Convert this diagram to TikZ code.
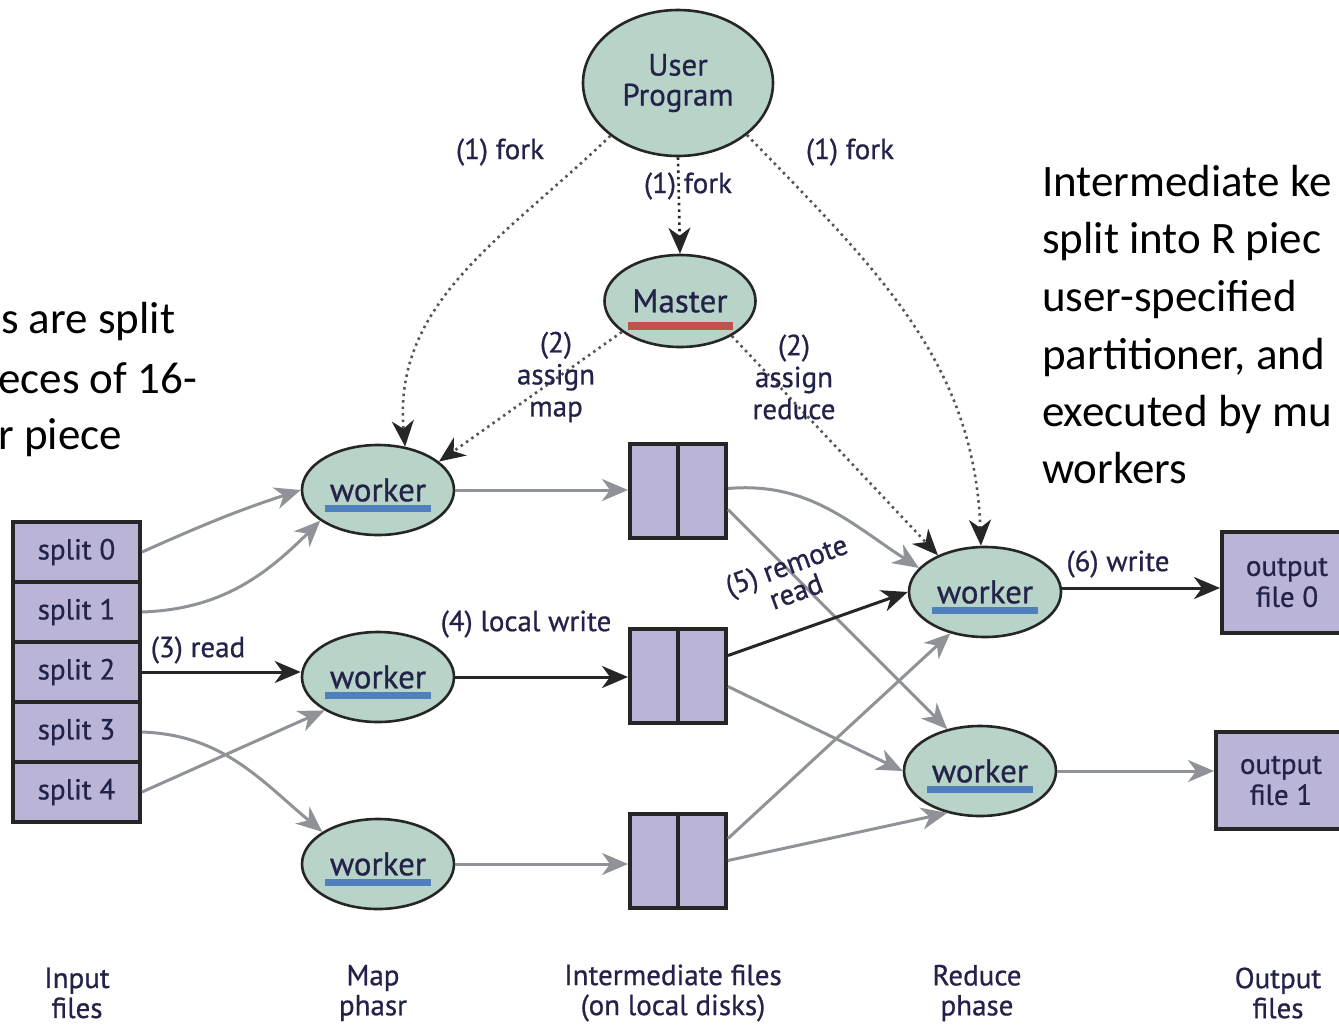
\documentclass[tikz,border=0pt]{standalone}
\usepackage{fontspec}
\setmainfont{Carlito}
\newfontfamily\figfont[FakeBold=0.7]{PT Sans}
\usetikzlibrary{arrows.meta,shapes.geometric}

\definecolor{nodefill}{HTML}{B8D3C8}
\definecolor{filefill}{HTML}{BAB5D7}
\definecolor{edgegray}{HTML}{8F9297}
\definecolor{inkdark}{HTML}{262626}
\definecolor{dotgray}{HTML}{555555}
\definecolor{labelink}{HTML}{23234A}
\definecolor{masterbar}{HTML}{C4504E}
\definecolor{workerbar}{HTML}{4F7FBC}

\begin{document}
\begin{tikzpicture}[x=1pt,y=-1pt,
  tipshape/.tip={Stealth[length=26pt,width=22pt,inset=8pt]},
  proc/.style={ellipse, draw=inkdark, line width=2.6pt, fill=nodefill,
    minimum width=152pt, minimum height=90pt, inner sep=0pt, align=center,
    text=labelink, font=\figfont\fontsize{33}{30}\selectfont},
  wbar/.style={path picture={\fill[workerbar]
    ([shift={(-53pt,-15pt)}]path picture bounding box.center) rectangle ++(106pt,-7pt);}},
  mbar/.style={path picture={\fill[masterbar]
    ([shift={(-52pt,-21pt)}]path picture bounding box.center) rectangle ++(105pt,-8pt);}},
  file/.style={rectangle, draw=inkdark, line width=4pt, fill=filefill,
    minimum width=96pt, minimum height=94pt, inner sep=0pt},
  split/.style={rectangle, draw=inkdark, line width=4pt, fill=filefill,
    minimum width=127pt, minimum height=60pt, inner sep=0pt, align=center,
    text=labelink, font=\figfont\fontsize{29}{31}\selectfont},
  lbl/.style={font=\figfont\fontsize{29}{32}\selectfont, text=labelink,
    align=center, inner sep=0pt},
  note/.style={font=\fontsize{45}{57}\selectfont, text=black, inner sep=0pt,
    anchor=base west},
  flow/.style={-tipshape, line width=3pt, draw=edgegray},
  mainflow/.style={-tipshape, line width=3pt, draw=inkdark},
  dotflow/.style={-{Stealth[length=26pt,width=22pt,inset=8pt,color=inkdark]},
    line width=2.6pt, draw=dotgray, dash pattern=on 2.5pt off 4pt},
]
\fill[white] (0,0) rectangle (1339,1026);
\useasboundingbox (0,0) rectangle (1339,1026);

% side notes
\node[note] (lnote1) at (1,333) {s are split};
\node[note] (lnote2) at (-2,393) {eces of 16-};
\node[note] (lnote3) at (-2,449) {r piece};
\node[note] (rnote1) at (1042,196) {Intermediate ke};
\node[note] (rnote2) at (1042,253) {split into R piec};
\node[note] (rnote3) at (1042,311) {user-specified};
\node[note] (rnote4) at (1042,369) {partitioner, and};
\node[note] (rnote5) at (1042,426) {executed by mu};
\node[note] (rnote6) at (1042,483) {workers};

% program and master
\node[proc, minimum width=190pt, minimum height=146pt,
  font=\figfont\fontsize{31}{30}\selectfont] (up) at (678,83) {User\\Program};
\node[proc, mbar, minimum width=151pt, minimum height=92pt] (m) at (680,301) {Master};

% map workers
\node[proc, wbar] (w1) at (378,490) {worker};
\node[proc, wbar] (w2) at (378,677) {worker};
\node[proc, wbar] (w3) at (378,864) {worker};

% reduce workers
\node[proc, wbar] (r1) at (985,592) {worker};
\node[proc, wbar] (r2) at (980,771) {worker};

% input splits
\node[split] (s0) at (76.5,552) {split 0};
\node[split] (s1) at (76.5,612) {split 1};
\node[split] (s2) at (76.5,672) {split 2};
\node[split] (s3) at (76.5,732) {split 3};
\node[split] (s4) at (76.5,792) {split 4};

% intermediate files, two partitions each
\node[file] (f1) at (678,490.5) {};
\node[file] (f2) at (678,675.5) {};
\node[file] (f3) at (678,860.5) {};
\foreach \f in {f1,f2,f3}
  \draw[inkdark, line width=3.5pt] (\f.north) -- (\f.south);

% output files
\node[split, minimum width=130pt, minimum height=101pt] (o0) at (1287,582.5) {output\\file 0};
\node[split, minimum width=130pt, minimum height=97pt] (o1) at (1281,780.5) {output\\file 1};

% fork and assign
\draw[dotflow, draw=inkdark] (up.south) -- (m.north);
\draw[dotflow] (up.218) to[out=224,in=95] (w1.58);
\draw[dotflow] (up.323) to[out=314,in=92] (r1.95);
\draw[dotflow] (m.208) -- (w1.25);
\draw[dotflow] (m.326) -- (r1.142);

% read splits
\draw[flow] (s0.east) to[out=24,in=198] (w1.west);
\draw[flow] (s1.east) to[out=2,in=225] (w1.208);
\draw[mainflow] (s2.east) -- (s2.east -| w2.west);
\draw[flow] (s3.east) to[out=-2,in=140] (w3.150);
\draw[flow] (s4.east) -- (w2.212);

% local writes
\draw[flow] (w1.east) -- (w1.east -| f1.west);
\draw[mainflow] (w2.east) -- (w2.east -| f2.west);
\draw[flow] (w3.east) -- (w3.east -| f3.west);

% remote reads
\draw[flow] ([yshift=2pt]f1.east) to[out=5,in=147] (r1.160);
\draw[flow] ([yshift=-19pt]f1.east) -- (r2.128);
\draw[mainflow] ([yshift=20pt]f2.east) -- (r1.west);
\draw[flow] ([yshift=-11pt]f2.east) -- (r2.west);
\draw[flow] ([yshift=22pt]f3.east) -- (r1.230);
\draw[flow] (f3.east) -- (r2.232);

% final writes
\draw[mainflow] ([yshift=4pt]r1.east) -- ([yshift=4pt]r1.east -| o0.west);
\draw[flow] (r2.east) -- (r2.east -| o1.west);

% edge labels
\node[lbl] (lfork1) at (500,152) {(1) fork};
\node[lbl] (lfork2) at (850,152) {(1) fork};
\node[lbl] (lfork3) at (688,186) {(1) fork};
\node[lbl] (lassign1) at (556,377) {(2)\\assign\\map};
\node[lbl] (lassign2) at (794,377) {(2)\\assign\\reduce};
\node[lbl] (lread) at (198,650) {(3) read};
\node[lbl] (lwrite) at (526,624) {(4) local write};
\node[lbl, rotate=20, font=\figfont\fontsize{29}{28}\selectfont] (lremote) at (791,578) {(5) remote\\read};
\node[lbl] (lout) at (1118,564) {(6) write};

% phase captions
\node[lbl, font=\figfont\fontsize{29}{30}\selectfont] (cap1) at (77,993) {Input\\files};
\node[lbl, font=\figfont\fontsize{29}{30}\selectfont] (cap2) at (373,993) {Map\\phasr};
\node[lbl, font=\figfont\fontsize{29}{30}\selectfont] (cap3) at (673,993) {Intermediate files\\(on local disks)};
\node[lbl, font=\figfont\fontsize{29}{30}\selectfont] (cap4) at (977,993) {Reduce\\phase};
\node[lbl, font=\figfont\fontsize{29}{30}\selectfont] (cap5) at (1278,993) {Output\\files};
\end{tikzpicture}
\end{document}
